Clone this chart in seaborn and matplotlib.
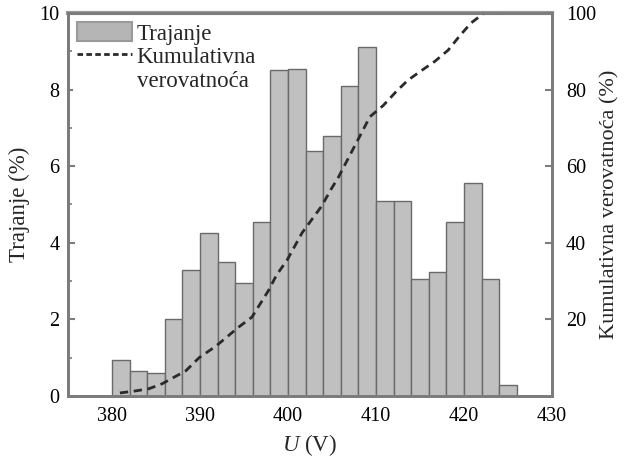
import numpy as np
import pandas as pd
import matplotlib
matplotlib.use("Agg")
import matplotlib.pyplot as plt
import seaborn as sns
from matplotlib.patches import Patch
from matplotlib.lines import Line2D
from matplotlib.ticker import MultipleLocator

# Histogram of duration per 2 V voltage bin (left bin edges, V)
bin_left = [380, 382, 384, 386, 388, 390, 392, 394, 396, 398, 400, 402,
            404, 406, 408, 410, 412, 414, 416, 418, 420, 422, 424]
trajanje = [0.95, 0.65, 0.6, 2.0, 3.3, 4.25, 3.5, 2.95, 4.55, 8.5, 8.55, 6.4,
            6.8, 8.1, 9.1, 5.1, 5.1, 3.05, 3.25, 4.55, 5.55, 3.05, 0.3]

# Cumulative probability curve (V, %)
cum_u = [380.9, 382.6, 384.2, 385.7, 388.4, 389.9, 391.8, 394.4, 395.9,
         397.8, 398.7, 399.9, 401.6, 403.8, 404.9, 405.7, 407.4, 408.2,
         409.3, 410.8, 412.3, 413.6, 415.0, 416.7, 418.2, 419.5, 420.8,
         422.3, 424.2]
cum_p = [0.8, 1.3, 1.9, 3.2, 6.6, 10.0, 13.0, 18.0, 20.6,
         27.6, 31.6, 35.5, 42.6, 49.5, 54.0, 57.0, 64.5, 68.0,
         72.9, 75.8, 79.5, 82.4, 84.7, 87.4, 90.3, 94.0, 97.4,
         100.0, 100.0]

x_ticks = [380, 390, 400, 410, 420, 430]
left_ticks = [0, 2, 4, 6, 8, 10]
right_ticks = [20, 40, 60, 80, 100]

sns.set_theme(style="white")
plt.rcParams["font.family"] = "serif"
plt.rcParams["font.serif"] = ["Liberation Serif", "DejaVu Serif"]
plt.rcParams["mathtext.fontset"] = "custom"
plt.rcParams["mathtext.it"] = "Liberation Serif:italic"
plt.rcParams["mathtext.rm"] = "Liberation Serif"

bar_face = "#c0c0c0"
bar_edge = "#6a6a6a"
spine_col = "#7c7c7c"
line_col = "#2a2a2a"

fig = plt.figure(figsize=(6.24, 4.57), dpi=100)
ax = fig.add_axes([68 / 624, 1 - 396 / 457, (552 - 68) / 624, (396 - 13) / 457])

hist_df = pd.DataFrame({"u": np.array(bin_left) + 1.0, "t": trajanje})
edges = bin_left + [bin_left[-1] + 2]
sns.histplot(data=hist_df, x="u", weights="t", bins=edges, stat="count",
             color=bar_face, edgecolor=bar_edge, linewidth=1.0, alpha=1.0, ax=ax)

ax.set_xlim(375, 430)
ax.set_ylim(0, 10)
ax.set_xticks(x_ticks)
ax.set_yticks(left_ticks)
ax.xaxis.set_minor_locator(MultipleLocator(5))
ax.yaxis.set_minor_locator(MultipleLocator(1))
ax.set_xlabel("$U$ (V)", fontsize=16.5, labelpad=4)
ax.set_ylabel("Trajanje (%)", fontsize=16.5, labelpad=7)

ax2 = ax.twinx()
cum_df = pd.DataFrame({"u": cum_u, "p": cum_p})
sns.lineplot(data=cum_df, x="u", y="p", ax=ax2, color=line_col,
             linewidth=2.0, sort=False)
for ln in ax2.get_lines():
    ln.set_dashes((3.0, 2.0))
ax2.set_ylim(0, 100)
ax2.set_yticks(right_ticks)
ax2.set_ylabel("Kumulativna verovatnoća (%)", fontsize=16, labelpad=3)

for a in (ax, ax2):
    for s in a.spines.values():
        s.set_color(spine_col)
        s.set_linewidth(2.0)
    a.tick_params(axis="both", which="major", direction="in", length=5,
                  width=1.5, color=spine_col, labelsize=14.5, labelcolor="black")
    a.tick_params(axis="both", which="minor", direction="in", length=3,
                  width=1.2, color=spine_col)
ax.tick_params(axis="x", pad=8)
ax.tick_params(axis="y", pad=6)
ax2.tick_params(axis="y", pad=10)
ax.spines["top"].set_linewidth(3.0)
ax.spines["top"].set_color("#9a9a9a")

handles = [
    Patch(facecolor="#b5b5b5", edgecolor="#9a9a9a", linewidth=1.5),
    Line2D([0], [0], color=line_col, linewidth=2.0, dashes=(2.0, 1.2)),
    Line2D([0], [0], color="none"),
]
labels = ["Trajanje", "Kumulativna", "verovatnoća"]
leg = ax2.legend(handles, labels, loc="upper left", fontsize=16.5,
                 frameon=True, facecolor="white", edgecolor="none",
                 framealpha=1.0, fancybox=False, handlelength=2.4,
                 handleheight=0.9, handletextpad=0.2, labelspacing=0.05,
                 borderpad=0.2, borderaxespad=0.2)
leg.get_frame().set_linewidth(0)

fig.savefig("out.png", dpi=100)
